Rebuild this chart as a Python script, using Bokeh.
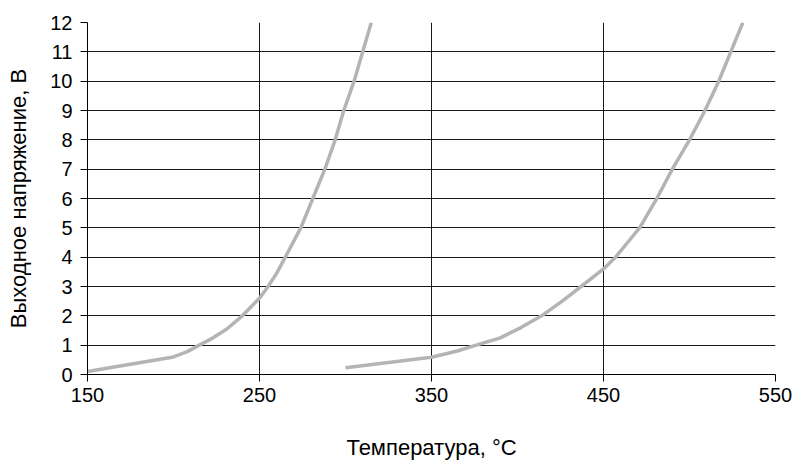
from bokeh.plotting import figure
from bokeh.models import FixedTicker, Range1d
from bokeh.embed import file_html
from bokeh.resources import INLINE

# Data
t1 = [150, 175, 200, 208, 215, 223, 231, 240, 250, 255, 260, 265, 274, 281, 288, 294, 299, 305, 310, 315]
v1 = [0.1, 0.35, 0.6, 0.78, 1.0, 1.25, 1.55, 2.0, 2.6, 3.0, 3.45, 4.0, 5.0, 6.0, 7.0, 8.0, 9.0, 10.0, 11.0, 12.0]
t2 = [300, 350, 365, 376, 390, 402, 414, 426, 437, 450, 457, 464, 471, 481, 490, 500, 509, 517, 524, 531]
v2 = [0.23, 0.59, 0.8, 1.0, 1.25, 1.6, 2.0, 2.5, 3.0, 3.6, 4.0, 4.5, 5.0, 6.0, 7.0, 8.0, 9.0, 10.0, 11.0, 12.0]
x_ticks = [150, 250, 350, 450, 550]
y_ticks = list(range(0, 13))
x_label = "Температура, °С"
y_label = "Выходное напряжение, В"

FONT = "Liberation Sans"

p = figure(width=798, height=464, output_backend="svg", toolbar_location=None,
           x_range=Range1d(150, 550), y_range=Range1d(0, 12),
           min_border_left=87, min_border_right=23, min_border_top=22, min_border_bottom=90)
p.outline_line_color = None
p.background_fill_color = "white"
p.border_fill_color = "white"

p.line(t1, v1, line_color="#b4b4b4", line_width=3.5, line_join="round")
p.line(t2, v2, line_color="#b4b4b4", line_width=3.5, line_join="round")

p.xaxis.ticker = FixedTicker(ticks=x_ticks)
p.yaxis.ticker = FixedTicker(ticks=y_ticks)
for ax in (p.xaxis[0], p.yaxis[0]):
    ax.axis_line_color = "black"
    ax.axis_line_width = 1
    ax.major_tick_line_color = "black"
    ax.major_tick_in = 0
    ax.major_tick_out = 7
    ax.minor_tick_line_color = None
    ax.major_label_text_font = FONT
    ax.major_label_text_font_size = "20px"
    ax.major_label_text_color = "black"
    ax.axis_label_text_font = FONT
    ax.axis_label_text_font_size = "22px"
    ax.axis_label_text_font_style = "normal"
    ax.axis_label_text_color = "black"
p.xaxis.axis_label = x_label
p.yaxis.axis_label = y_label
p.xaxis.major_label_standoff = 6
p.yaxis.major_label_standoff = 8
p.xaxis.axis_label_standoff = 30
p.yaxis.axis_label_standoff = 16

p.xgrid.ticker = FixedTicker(ticks=x_ticks)
p.ygrid.ticker = FixedTicker(ticks=y_ticks)
p.grid.grid_line_color = "black"
p.grid.grid_line_width = 1
p.grid.grid_line_alpha = 0.9

open("out.html", "w").write(file_html(p, INLINE))
